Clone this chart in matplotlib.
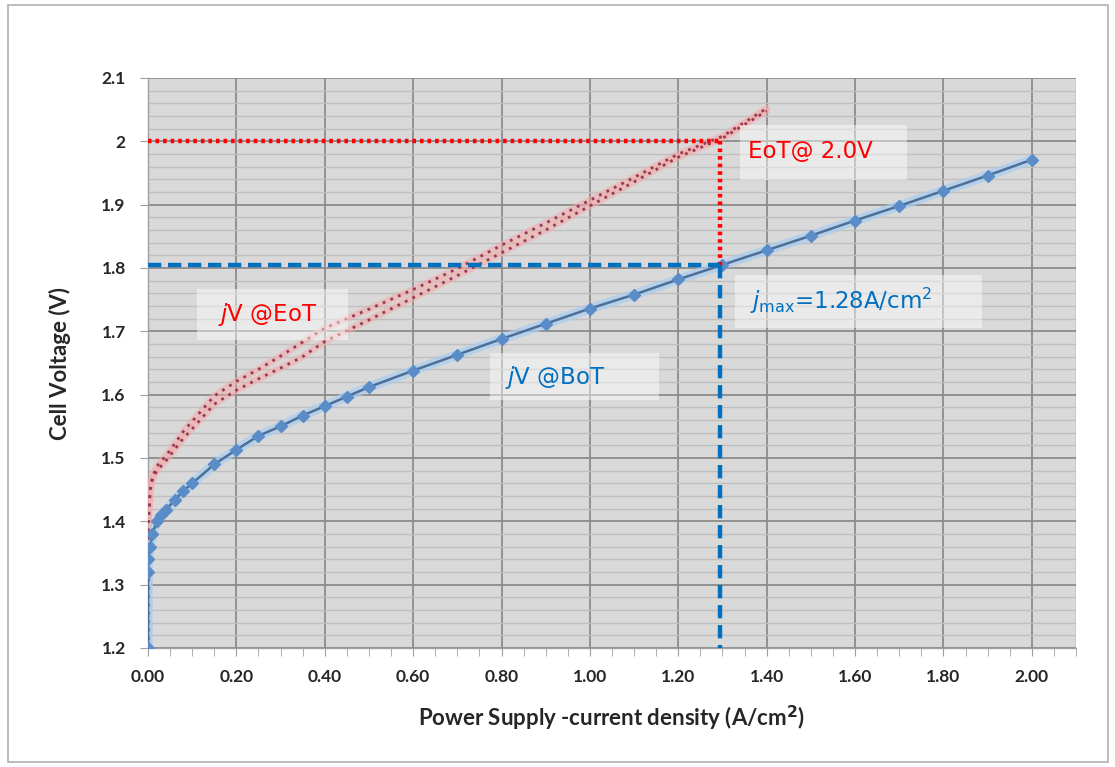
import matplotlib
matplotlib.use("Agg")
import matplotlib.pyplot as plt
from matplotlib.patches import Rectangle
from matplotlib.ticker import MultipleLocator, FuncFormatter
import numpy as np

# ---------------- data ----------------
bot_j = [0.0, 0.0, 0.0, 0.005, 0.01, 0.02, 0.03, 0.04, 0.06, 0.08, 0.10, 0.15, 0.20, 0.25,
         0.30, 0.35, 0.40, 0.45, 0.50, 0.60, 0.70, 0.80, 0.90, 1.00, 1.10, 1.20, 1.30,
         1.40, 1.50, 1.60, 1.70, 1.80, 1.90, 2.00]
bot_v = [1.20, 1.32, 1.34, 1.36, 1.38, 1.40, 1.41, 1.418, 1.433, 1.448, 1.46, 1.49, 1.513, 1.535,
         1.55, 1.567, 1.582, 1.597, 1.612, 1.638, 1.663, 1.688, 1.712, 1.736, 1.758, 1.782, 1.805,
         1.828, 1.851, 1.875, 1.898, 1.922, 1.946, 1.971]

eot_j = [0.0, 0.0, 0.005, 0.01, 0.02, 0.04, 0.06, 0.08, 0.10, 0.15, 0.20, 0.25, 0.30, 0.35,
         0.40, 0.45, 0.50, 0.60, 0.70, 0.80, 0.90, 1.00, 1.10, 1.20, 1.30, 1.40]
eot_v1 = [1.20, 1.39, 1.45, 1.47, 1.487, 1.503, 1.522, 1.542, 1.558, 1.598, 1.621, 1.64, 1.661, 1.683,
          1.705, 1.72, 1.735, 1.766, 1.799, 1.836, 1.871, 1.907, 1.943, 1.98, 2.008, 2.052]
eot_v2 = [1.20, 1.39, 1.45, 1.466, 1.48, 1.495, 1.513, 1.531, 1.546, 1.585, 1.607, 1.625, 1.642, 1.66,
          1.684, 1.701, 1.718, 1.753, 1.788, 1.824, 1.86, 1.898, 1.936, 1.975, 2.005, 2.048]

eot_limit_v = 2.0
jmax_v = 1.805
jmax_j = 1.295

x_ticks = [0.0, 0.2, 0.4, 0.6, 0.8, 1.0, 1.2, 1.4, 1.6, 1.8, 2.0]
y_ticks = [1.2, 1.3, 1.4, 1.5, 1.6, 1.7, 1.8, 1.9, 2.0, 2.1]

# ---------------- figure ----------------
fig = plt.figure(figsize=(11.15, 7.67), dpi=100)
fig.patch.set_facecolor("white")
ax = fig.add_axes([148/1115, 1-648/767, (1076-148)/1115, (648-78)/767])
ax.set_facecolor("#d9d9d9")

ax.set_xlim(0, 2.1)
ax.set_ylim(1.2, 2.1)

# grid
ax.yaxis.set_major_locator(MultipleLocator(0.1))
ax.yaxis.set_minor_locator(MultipleLocator(0.02))
ax.xaxis.set_major_locator(MultipleLocator(0.2))
ax.xaxis.set_minor_locator(MultipleLocator(0.05))
ax.grid(which="major", axis="y", color="#8c8c8c", lw=1.3)
ax.grid(which="minor", axis="y", color="#bfbfbf", lw=1.0)
ax.grid(which="major", axis="x", color="#8c8c8c", lw=1.3)
ax.set_axisbelow(True)
ax.axvline(2.1, color="#8c8c8c", lw=1.0, zorder=0.5)

ax.set_xticks(x_ticks)
ax.set_yticks(y_ticks)
ax.xaxis.set_major_formatter(FuncFormatter(lambda v, p: f"{v:.2f}"))
ax.yaxis.set_major_formatter(FuncFormatter(lambda v, p: f"{v:.1f}".rstrip("0").rstrip(".")))

for s in ax.spines.values():
    s.set_color("#a0a0a0")
    s.set_linewidth(1.0)
ax.spines["top"].set_visible(False)
ax.spines["right"].set_visible(False)

ax.tick_params(axis="both", which="major", length=6, color="#a0a0a0", labelsize=12.5,
               labelcolor="#262626")
ax.tick_params(axis="x", which="minor", length=6, color="#a0a0a0")
ax.tick_params(axis="y", which="minor", length=0)
for lab in ax.get_xticklabels() + ax.get_yticklabels():
    lab.set_fontweight("bold")
    lab.set_family("Lato")
ax.tick_params(axis="x", pad=9)
ax.tick_params(axis="y", pad=10)

ax.set_xlabel("Power Supply -current density (A/cm$^{\\mathbf{2}}$)", fontsize=16, fontweight="bold",
              family="Lato", color="#262626", labelpad=14)
ax.set_ylabel("Cell Voltage (V)", fontsize=16, fontweight="bold", family="Lato",
              color="#262626", labelpad=22)

# ---------------- series ----------------
# EoT (red, two overlapping traces)
for v in (eot_v1, eot_v2):
    ax.plot(eot_j, v, color="#f4aaaa", lw=5, alpha=0.55, solid_capstyle="round", zorder=3)
for v in (eot_v1, eot_v2):
    ax.plot(eot_j, v, color="#9a3a52", lw=2.0, ls=(0, (1, 2)), zorder=4)

# BoT (blue)
ax.plot(bot_j, bot_v, color="#a9cdf0", lw=7, alpha=0.7, solid_capstyle="round", zorder=3)
ax.plot(bot_j, bot_v, color="#4b6f99", lw=1.8, marker="D", ms=6, mfc="#5a8cc8",
        mec="#5a8cc8", zorder=4)

# ---------------- reference lines ----------------
ax.plot([0, jmax_j], [eot_limit_v, eot_limit_v], color="#ff0000", lw=3.2,
        ls=(0, (0.8, 0.9)), zorder=5)
ax.plot([jmax_j, jmax_j], [eot_limit_v, jmax_v], color="#ff0000", lw=3.2,
        ls=(0, (0.8, 0.9)), zorder=5)
ax.plot([0, jmax_j], [jmax_v, jmax_v], color="#0070c0", lw=3.2,
        ls=(0, (3, 1.5)), zorder=5)
ax.plot([jmax_j, jmax_j], [jmax_v, 1.2], color="#0070c0", lw=3.2,
        ls=(0, (3, 1.5)), zorder=5, clip_on=False)

# ---------------- annotation boxes ----------------
def box(x0, x1, y0, y1):
    ax.add_patch(Rectangle((x0, y0), x1 - x0, y1 - y0, facecolor="white",
                           alpha=0.45, edgecolor="none", zorder=6))

box(1.339, 1.717, 1.939, 2.026)
box(1.328, 1.887, 1.706, 1.789)
box(0.111, 0.452, 1.687, 1.767)
box(0.774, 1.156, 1.592, 1.666)

tkw = dict(fontsize=16.5, family="DejaVu Sans", va="center", ha="left", zorder=7)
ax.text(1.357, 1.984, "EoT@ 2.0V", color="#ff0000", **tkw)
ax.text(1.362, 1.748, r"$\mathit{j}_{\mathrm{max}}$=1.28A/cm$^{2}$", color="#0070c0", **tkw)
ax.text(0.158, 1.726, r"$\mathit{j}$V @EoT", color="#ff0000", **tkw)
ax.text(0.808, 1.627, r"$\mathit{j}$V @BoT", color="#0070c0", **tkw)

# outer frame
fig.add_artist(Rectangle((8/1115, 1-762/767), 1100/1115, 757/767, transform=fig.transFigure,
                         facecolor="none", edgecolor="#b0b0b0", lw=1.2))

fig.savefig("out.png", dpi=100)
